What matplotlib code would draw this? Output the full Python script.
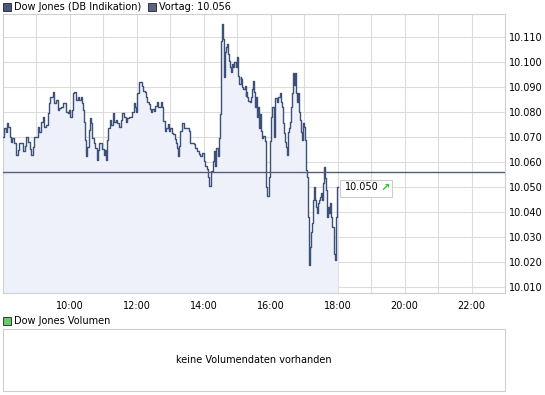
import matplotlib
matplotlib.use('Agg')
import matplotlib.pyplot as plt
from matplotlib.patches import Rectangle
import numpy as np

# intraday Dow Jones (DB Indikation), minutes since 08:00 and index level (in thousands)
minutes = [0, 2, 5, 7, 9, 12, 15, 17, 20, 23, 26, 29, 33, 36, 39, 42, 45, 48, 51, 54, 56, 60, 62, 65, 68, 71,
           74, 77, 80, 82, 84, 87, 89, 92, 95, 98, 101, 104, 107, 110, 113, 116, 119,
           121, 124, 126, 128, 131, 134, 137, 139, 141, 143, 145, 147, 149, 151, 154, 156, 158, 160, 163, 165,
           168, 170, 172, 176, 178, 181, 183, 185, 187, 189, 192, 194, 197, 199, 202, 205, 208, 211, 214, 217,
           220, 223, 226, 229, 232, 234, 237, 239, 241,
           243, 246, 249, 251, 254, 256, 258, 261, 264, 266, 268, 271, 273, 276, 278, 280, 283, 285, 287, 290,
           292, 295, 297, 300, 303, 305, 308, 310, 312, 314, 316, 318, 321, 324, 327, 330, 333, 336, 339, 342,
           345, 348, 351, 354, 357, 360, 363,
           365, 367, 369, 371, 373, 376, 378, 380, 382, 385, 387, 389, 390, 391, 393, 394, 395, 396, 398, 400,
           402, 403, 405, 407, 409, 411, 413, 415, 418, 420, 422, 424, 426, 427, 429, 431, 433, 435, 436, 438,
           440, 442, 444, 446, 448, 450, 451, 454, 456, 457, 459, 461, 463, 465, 467, 469, 471, 472, 474, 476,
           478, 479, 481, 483,
           486, 488, 491, 493, 496, 498, 500, 502, 504, 505, 507, 509, 511, 513, 515, 517, 518, 520, 522, 524,
           526, 527, 529, 531, 533, 535, 536, 538, 540, 542, 544, 545, 547, 548, 549, 551, 553, 554, 556, 558,
           560, 562, 563, 565, 567, 569, 571, 572, 574, 576, 577, 579, 581, 583, 584, 586, 588, 590, 592, 593,
           595, 597, 599, 600]
kurs = [10.0700, 10.0736, 10.0723, 10.0759, 10.0743, 10.0700, 10.0682, 10.0696, 10.0676, 10.0629, 10.0649,
        10.0678, 10.0678, 10.0646, 10.0665, 10.0700, 10.0682, 10.0652, 10.0629, 10.0662, 10.0700, 10.0700,
        10.0743, 10.0723, 10.0763, 10.0783, 10.0743, 10.0749, 10.0796, 10.0839, 10.0863, 10.0863, 10.0880,
        10.0839, 10.0850, 10.0809, 10.0816, 10.0823, 10.0839, 10.0839, 10.0803, 10.0796, 10.0809,
        10.0783, 10.0809, 10.0876, 10.0880, 10.0850, 10.0863, 10.0850, 10.0860, 10.0836, 10.0809, 10.0763,
        10.0689, 10.0625, 10.0662, 10.0729, 10.0776, 10.0756, 10.0696, 10.0676, 10.0656, 10.0609, 10.0649,
        10.0676, 10.0678, 10.0652, 10.0629, 10.0649, 10.0609, 10.0689, 10.0736, 10.0769, 10.0749, 10.0796,
        10.0763, 10.0769, 10.0756, 10.0743, 10.0769, 10.0796, 10.0783, 10.0763, 10.0776, 10.0780, 10.0783,
        10.0803, 10.0839, 10.0823, 10.0803, 10.0876,
        10.0920, 10.0920, 10.0907, 10.0887, 10.0880, 10.0860, 10.0840, 10.0833, 10.0813, 10.0800, 10.0813,
        10.0806, 10.0826, 10.0840, 10.0820, 10.0820, 10.0840, 10.0820, 10.0766, 10.0726, 10.0739, 10.0753,
        10.0726, 10.0739, 10.0719, 10.0713, 10.0693, 10.0679, 10.0659, 10.0626, 10.0666, 10.0726, 10.0756,
        10.0739, 10.0737, 10.0739, 10.0726, 10.0679, 10.0679, 10.0673, 10.0659, 10.0646, 10.0632, 10.0626,
        10.0639, 10.0606, 10.0586,
        10.0572, 10.0539, 10.0505, 10.0505, 10.0566, 10.0606, 10.0646, 10.0586, 10.0659, 10.0626, 10.0699,
        10.0793, 10.0907, 10.1087, 10.1154, 10.1134, 10.1094, 10.0940, 10.1040, 10.1060, 10.1074, 10.1034,
        10.1007, 10.0980, 10.0960, 10.0994, 10.0980, 10.1000, 10.0980, 10.1020, 10.0947, 10.0913, 10.0940,
        10.0933, 10.0900, 10.0893, 10.0907, 10.0866, 10.0880, 10.0860, 10.0846, 10.0840, 10.0860, 10.0893,
        10.0927, 10.0880, 10.0820, 10.0860, 10.0780, 10.0820, 10.0739, 10.0793, 10.0726, 10.0699, 10.0706,
        10.0686, 10.0659, 10.0499, 10.0465, 10.0539, 10.0612, 10.0686, 10.0780, 10.0820,
        10.0703, 10.0856, 10.0843, 10.0860, 10.0876, 10.0843, 10.0823, 10.0756, 10.0716, 10.0682, 10.0662,
        10.0629, 10.0723, 10.0736, 10.0763, 10.0823, 10.0876, 10.0957, 10.0910, 10.0957, 10.0876, 10.0843,
        10.0876, 10.0803, 10.0769, 10.0723, 10.0689, 10.0756, 10.0743, 10.0689, 10.0569, 10.0542, 10.0382,
        10.0261, 10.0188, 10.0261, 10.0321, 10.0355, 10.0448, 10.0502, 10.0448, 10.0422, 10.0395, 10.0435,
        10.0448, 10.0462, 10.0475, 10.0448, 10.0515, 10.0582, 10.0535, 10.0489, 10.0382, 10.0422, 10.0395,
        10.0435, 10.0382, 10.0341, 10.0341, 10.0234, 10.0208, 10.0382, 10.0500, 10.0500]

vortag = 10.056
letzter = 10.050
yticks = [10.010, 10.020, 10.030, 10.040, 10.050, 10.060, 10.070, 10.080, 10.090, 10.100, 10.110]
xlabels = ['10:00', '12:00', '14:00', '16:00', '18:00', '20:00', '22:00']

W, H = 545, 395
grid_c = '#dcdcdc'
line_c = '#3d5077'
fill_c = '#eef1fa'
plt.rcParams['font.family'] = 'DejaVu Sans'
fs = 7

fig = plt.figure(figsize=(W / 100, H / 100), dpi=100)

# main price chart
ax = fig.add_axes([3 / W, 1 - 293 / H, 502 / W, 279.5 / H])
hours = 8 + np.array(minutes) / 60.0
ax.fill_between(hours, kurs, 10.0, step='post', color=fill_c, lw=0, zorder=1)
ax.plot(hours, kurs, drawstyle='steps-post', color=line_c, lw=1.0, zorder=3)
ax.axhline(vortag, color='#555d78', lw=1.0, zorder=4)

ax.set_xlim(8, 23)
ax.set_ylim(10.0076, 10.1196)
ax.set_xticks(range(9, 23), minor=True)
ax.set_xticks(range(10, 23, 2))
ax.set_xticklabels(xlabels)
ax.set_yticks(yticks)
ax.set_yticklabels(['%.3f' % v for v in yticks])
ax.yaxis.tick_right()
ax.tick_params(axis='both', which='both', length=0, labelsize=fs)
ax.tick_params(axis='y', pad=3)
ax.tick_params(axis='x', pad=6)
ax.grid(True, which='both', color=grid_c, lw=0.8, zorder=0)
ax.set_axisbelow(True)
for s in ax.spines.values():
    s.set_color('#cfcfcf')
    s.set_linewidth(0.8)

# last price box: white frame, value text and green arrow next to the last point
last_x = 8 + minutes[-1] / 60.0
ax.add_patch(Rectangle((340 / W, 1 - 197 / H), 52 / W, 17 / H, transform=fig.transFigure,
                       fc='white', ec='#cccccc', lw=0.8, zorder=6, clip_on=False))
ax.annotate('10.050', xy=(last_x, letzter), xytext=(5, 0), textcoords='offset points',
            ha='left', va='center', fontsize=fs, color='black', zorder=7)
ax.annotate('\u2197', xy=(last_x, letzter), xytext=(31, 0), textcoords='offset points',
            ha='left', va='center', fontsize=8, color='#22cc22', fontweight='bold', zorder=7)

# legends
def legend_box(x, y, fc, label):
    fig.add_artist(Rectangle((x / W, 1 - (y + 8) / H), 8 / W, 8 / H, transform=fig.transFigure,
                             fc=fc, ec='#222222', lw=0.6))
    fig.text((x + 11) / W, 1 - (y + 4) / H, label, fontsize=fs, va='center', ha='left')

legend_box(3, 3, '#48577f', 'Dow Jones (DB Indikation)')
legend_box(148, 3, '#5c6484', 'Vortag: 10.056')
legend_box(3, 317, '#66cc66', 'Dow Jones Volumen')

# volume panel (empty)
ax2 = fig.add_axes([3 / W, 1 - 391 / H, 502 / W, 62 / H])
ax2.set_xticks([])
ax2.set_yticks([])
for s in ax2.spines.values():
    s.set_color('#cfcfcf')
    s.set_linewidth(0.8)
ax2.text(0.5, 0.5, 'keine Volumendaten vorhanden', transform=ax2.transAxes,
         ha='center', va='center', fontsize=fs)

fig.savefig('out.png', dpi=100)
